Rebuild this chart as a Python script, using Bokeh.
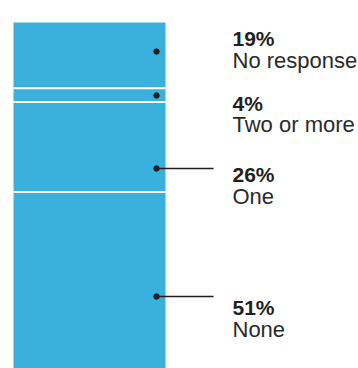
from bokeh.plotting import figure
from bokeh.models import Range1d, ColumnDataSource
from bokeh.core.properties import value
from bokeh.embed import file_html
from bokeh.resources import INLINE
import numpy as np

# ---- data ----
categories = ["No response", "Two or more", "One", "None"]
shares = [19, 4, 26, 51]
pct_labels = [f"{v}%" for v in shares]

# ---- layout (annotation anchors, in percent-from-top units) ----
dot_pos = [8.4, 21.1, 42.2, 79.2]
pct_baseline = [4.6, 23.3, 43.9, 82.4]
label_gap = 6.3
has_leader = [False, False, True, True]

BAR_L, BAR_R = 13, 165
DOT_X = 156
LEAD_END = 213
TEXT_X = 232
BLUE = "#3AB1DC"
INK = "#231F20"

W, H = 358, 368
px_per_unit = 346 / 100
top_pad = 22 / px_per_unit

p = figure(width=W, height=H, output_backend="svg", toolbar_location=None,
           x_range=Range1d(0, W), y_range=Range1d(100, -top_pad),
           x_axis_type=None, y_axis_type=None, min_border=0,
           outline_line_color=None, background_fill_color="white")
p.grid.visible = False

ends = np.cumsum(shares)
starts = ends - np.array(shares)
src = ColumnDataSource(dict(top=starts, bottom=ends, left=[BAR_L]*4, right=[BAR_R]*4))
p.quad(top="top", bottom="bottom", left="left", right="right", source=src,
       fill_color=BLUE, line_color=None)

# white separators between segments
seps = list(ends[:-1])
p.segment(x0=[BAR_L]*len(seps), x1=[BAR_R]*len(seps), y0=seps, y1=seps,
          line_color="white", line_width=2)

# leader lines and dots
lx0 = [DOT_X for h in has_leader if h]
lx1 = [LEAD_END for h in has_leader if h]
ly = [d for d, h in zip(dot_pos, has_leader) if h]
p.segment(x0=lx0, x1=lx1, y0=ly, y1=ly, line_color=INK, line_width=1.5)
p.scatter(x=[DOT_X]*4, y=dot_pos, size=5.5, fill_color=INK, line_color=INK)

# texts
p.text(x=[TEXT_X]*4, y=pct_baseline, text=pct_labels, text_font=value("Liberation Sans"),
       text_font_style="bold", text_font_size="21px", text_color=INK,
       text_baseline="alphabetic", text_align="left")
p.text(x=[TEXT_X]*4, y=[b + label_gap for b in pct_baseline], text=categories,
       text_font=value("Liberation Sans"), text_font_size="22px", text_color="#2a2a2a",
       text_baseline="alphabetic", text_align="left")

open("out.html", "w").write(file_html(p, INLINE))
